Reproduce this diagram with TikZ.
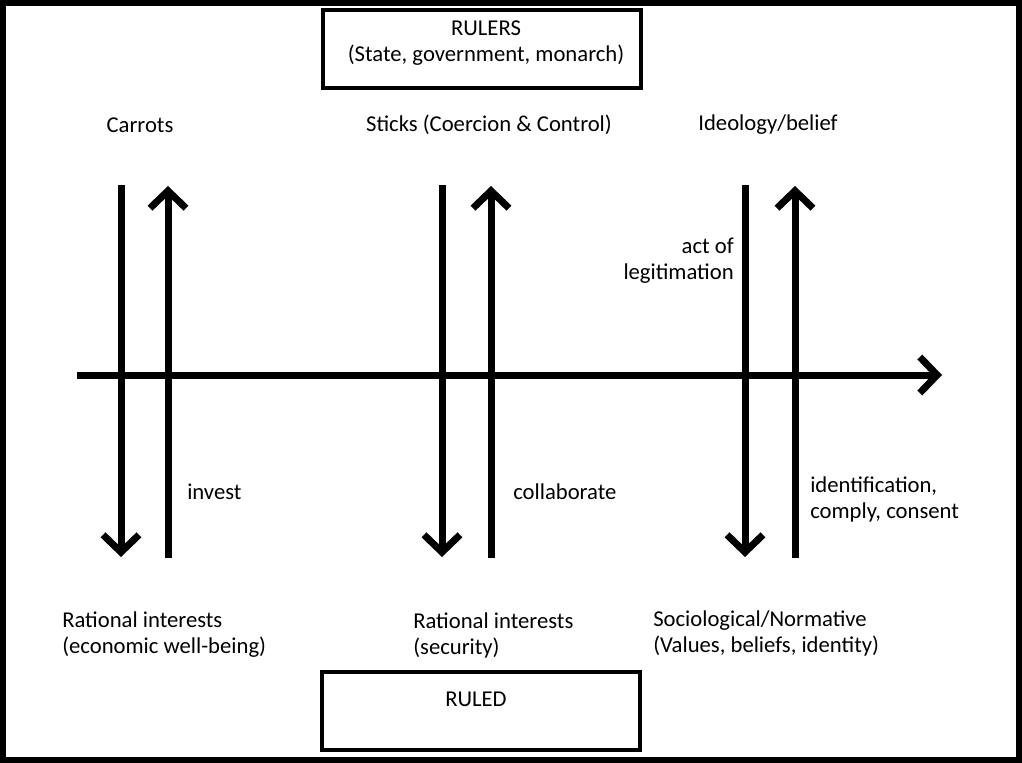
\documentclass[tikz,border=0pt]{standalone}
\usepackage{fontspec}
\setmainfont{Carlito}
\usetikzlibrary{arrows.meta}
\begin{document}
\begin{tikzpicture}[x=0.75pt,y=-0.75pt,
  lbl/.style={font=\fontsize{17}{19.5}\selectfont, inner sep=0pt, align=left},
  boxnode/.style={draw, line width=3pt, minimum width=238.5pt, minimum height=58.5pt, inner sep=0pt},
  arr/.style={line width=5.25pt, -{Straight Barb[length=13pt,width=27pt]}},
  axis/.style={line width=5.25pt, -{Straight Barb[length=13pt,width=27pt]}}]
\useasboundingbox (0,0) rectangle (1022,763);
\draw[line width=4.5pt] (3,3) rectangle (1019,760);
% boxes
\node[boxnode] (rulers) at (481.5,49) {};
\node[lbl, align=center] (rulerstxt) at (486,43) {RULERS\\(State, government, monarch)};
\node[boxnode] (ruled) at (481,711) {};
\node[lbl] (ruledtxt) at (476,699) {RULED};
% top labels
\node[lbl] (carrots) at (140,125) {Carrots};
\node[lbl] (sticks) at (489,125) {Sticks (Coercion \& Control)};
\node[lbl] (ideology) at (768,125) {Ideology/belief};
% arrow coordinates
\coordinate (d1t) at (121,185); \coordinate (d1b) at (121,557);
\coordinate (u1b) at (168,558); \coordinate (u1t) at (168,186);
\coordinate (d2t) at (442,185); \coordinate (d2b) at (442,557);
\coordinate (u2b) at (491,558); \coordinate (u2t) at (491,186);
\coordinate (d3t) at (745,185); \coordinate (d3b) at (745,557);
\coordinate (u3b) at (795,558); \coordinate (u3t) at (795,186);
\coordinate (axl) at (77,375); \coordinate (axr) at (942,375);
\draw[arr] (d1t) -- (d1b);
\draw[arr] (u1b) -- (u1t);
\draw[arr] (d2t) -- (d2b);
\draw[arr] (u2b) -- (u2t);
\draw[arr] (d3t) -- (d3b);
\draw[arr] (u3b) -- (u3t);
\draw[axis] (axl) -- (axr);
% middle labels
\node[lbl, anchor=east, align=right] (legit) at (734,261) {act of\\legitimation};
\node[lbl, anchor=west] (invest) at (187,492) {invest};
\node[lbl, anchor=west] (collab) at (513,492) {collaborate};
\node[lbl, anchor=west] (ident) at (810,499) {identification,\\comply, consent};
% bottom labels
\node[lbl, anchor=west] (rat1) at (62,635) {Rational interests\\(economic well-being)};
\node[lbl, anchor=west] (rat2) at (413,635) {Rational interests\\(security)};
\node[lbl, anchor=west] (socio) at (653,633) {Sociological/Normative\\(Values, beliefs, identity)};
\end{tikzpicture}
\end{document}
